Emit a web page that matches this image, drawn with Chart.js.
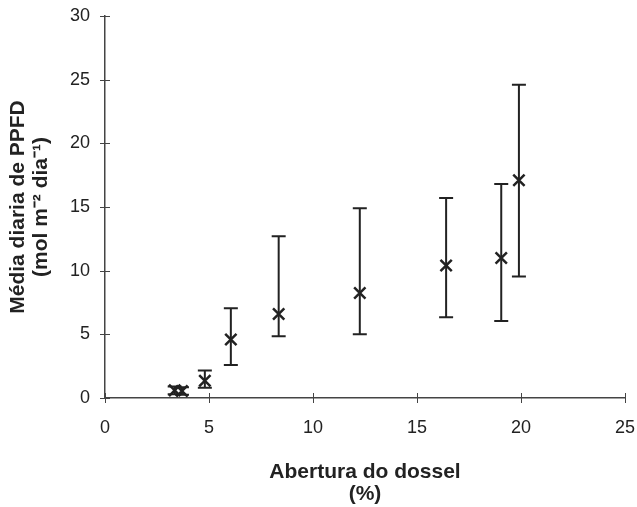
<!DOCTYPE html>
<html>
<head>
<meta charset="utf-8">
<script src="https://cdn.jsdelivr.net/npm/chart.js@4"></script>
<style>
    body { margin: 0; background: #fff; }
    #wrap { width: 637px; height: 507px; }
</style>
</head>
<body>
<div id="wrap"><canvas id="ppfdChart"></canvas></div>
<script>
// Canopy openness (%) vs mean daily PPFD, with error bars
const abertura = [3.35, 3.7, 4.8, 6.05, 8.35, 12.25, 16.4, 19.05, 19.9];
const mediaPPFD = [0.6, 0.55, 1.35, 4.6, 6.6, 8.25, 10.4, 11.0, 17.1];
const erroMin = [0.3, 0.25, 0.8, 2.6, 4.85, 5.0, 6.35, 6.05, 9.55];
const erroMax = [0.9, 0.85, 2.15, 7.05, 12.7, 14.9, 15.7, 16.8, 24.6];

const xTitle = ['Abertura do dossel', '(%)'];
const yTitle = ['Média diaria de PPFD', '(mol m\u207B\u00B2 dia\u207B\u00B9)'];

const ink = '#222';
const axisColor = '#444';
const fontFamily = "'Liberation Sans', Arial, sans-serif";

// vertical error bars with caps, drawn under the markers
const errorBars = {
    id: 'errorBars',
    beforeDatasetsDraw(chart) {
        const {ctx, scales: {x, y}} = chart;
        ctx.save();
        ctx.strokeStyle = ink;
        ctx.lineWidth = 2;
        abertura.forEach((v, i) => {
            const px = x.getPixelForValue(v);
            const top = y.getPixelForValue(erroMax[i]);
            const bot = y.getPixelForValue(erroMin[i]);
            ctx.beginPath();
            ctx.moveTo(px, top); ctx.lineTo(px, bot);
            ctx.moveTo(px - 7, top); ctx.lineTo(px + 7, top);
            ctx.moveTo(px - 7, bot); ctx.lineTo(px + 7, bot);
            ctx.stroke();
        });
        ctx.restore();
    }
};

// short tick marks crossing each axis
const crossTicks = {
    id: 'crossTicks',
    afterDraw(chart) {
        const {ctx, scales: {x, y}} = chart;
        ctx.save();
        ctx.strokeStyle = axisColor;
        ctx.lineWidth = 1;
        ctx.beginPath();
        x.ticks.forEach(t => {
            const px = Math.round(x.getPixelForValue(t.value)) + 0.5;
            ctx.moveTo(px, y.bottom + 5);
            ctx.lineTo(px, y.bottom - 5);
        });
        y.ticks.forEach(t => {
            const py = Math.round(y.getPixelForValue(t.value)) + 0.5;
            ctx.moveTo(x.left - 5, py);
            ctx.lineTo(x.left + 5, py);
        });
        ctx.stroke();
        ctx.restore();
    }
};

const ctx = document.getElementById('ppfdChart').getContext('2d');

new Chart(ctx, {
    type: 'scatter',
    data: {
        datasets: [{
            data: abertura.map((v, i) => ({x: v, y: mediaPPFD[i]})),
            pointStyle: 'crossRot',
            pointRadius: 8,
            borderColor: ink,
            backgroundColor: ink,
            borderWidth: 2.5
        }]
    },
    options: {
        responsive: true,
        maintainAspectRatio: false,
        animation: false,
        layout: {
            padding: {top: 16, right: 12, left: 0, bottom: 0}
        },
        plugins: {
            legend: {display: false},
            tooltip: {enabled: false}
        },
        scales: {
            x: {
                type: 'linear',
                min: 0,
                max: 25,
                ticks: {
                    stepSize: 5,
                    color: ink,
                    padding: 0,
                    font: {family: fontFamily, size: 18}
                },
                grid: {
                    drawOnChartArea: false,
                    tickLength: 19,
                    tickColor: 'transparent'
                },
                border: {color: axisColor, width: 1.5},
                title: {
                    display: true,
                    text: xTitle,
                    color: ink,
                    padding: {top: 0, bottom: 2},
                    font: {family: fontFamily, size: 21, weight: 'bold', lineHeight: '22px'}
                },
                afterFit(scale) { scale.height = 109; }
            },
            y: {
                min: 0,
                max: 30,
                ticks: {
                    stepSize: 5,
                    color: ink,
                    padding: 0,
                    font: {family: fontFamily, size: 18}
                },
                grid: {
                    drawOnChartArea: false,
                    tickLength: 15,
                    tickColor: 'transparent'
                },
                border: {color: axisColor, width: 1.5},
                title: {
                    display: true,
                    text: yTitle,
                    color: ink,
                    padding: {top: 7, bottom: 0},
                    font: {family: fontFamily, size: 21, weight: 'bold', lineHeight: '23px'}
                },
                afterFit(scale) { scale.width = 105; }
            }
        }
    },
    plugins: [errorBars, crossTicks]
});
</script>
</body>
</html>
